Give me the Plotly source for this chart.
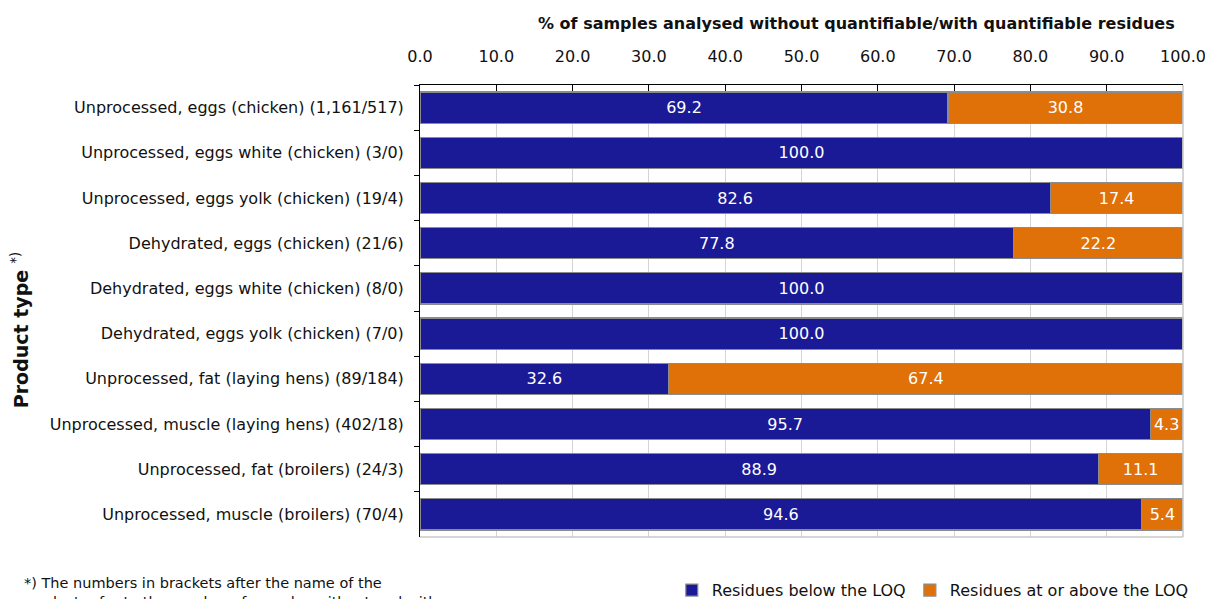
import plotly.graph_objects as go

categories = [
    "Unprocessed, eggs (chicken) (1,161/517)",
    "Unprocessed, eggs white (chicken) (3/0)",
    "Unprocessed, eggs yolk (chicken) (19/4)",
    "Dehydrated, eggs (chicken) (21/6)",
    "Dehydrated, eggs white (chicken) (8/0)",
    "Dehydrated, eggs yolk (chicken) (7/0)",
    "Unprocessed, fat (laying hens) (89/184)",
    "Unprocessed, muscle (laying hens) (402/18)",
    "Unprocessed, fat (broilers) (24/3)",
    "Unprocessed, muscle (broilers) (70/4)",
]
below_loq = [69.2, 100.0, 82.6, 77.8, 100.0, 100.0, 32.6, 95.7, 88.9, 94.6]
above_loq = [30.8, 0.0, 17.4, 22.2, 0.0, 0.0, 67.4, 4.3, 11.1, 5.4]
x_ticks = [0, 10, 20, 30, 40, 50, 60, 70, 80, 90, 100]

FONT = "DejaVu Sans"
NAVY = "#1a1a96"
ORANGE = "#e07008"

fig = go.Figure()
fig.add_trace(go.Bar(
    y=categories, x=below_loq, orientation="h", name="Residues below the LOQ",
    marker=dict(color=NAVY, line=dict(color="#8c8c8c", width=1.2)),
    text=[f"{v:.1f}" for v in below_loq], textposition="inside",
    insidetextanchor="middle", textfont=dict(color="white", size=16, family=FONT),
    legend="legend",
))
fig.add_trace(go.Bar(
    y=categories, x=above_loq, orientation="h", name="Residues at or above the LOQ",
    marker=dict(color=ORANGE, line=dict(color="#8c8c8c", width=1.2)),
    text=[f"{v:.1f}" if v > 0 else "" for v in above_loq], textposition="inside",
    insidetextanchor="middle", textfont=dict(color="white", size=16, family=FONT),
    cliponaxis=False, legend="legend2",
))

legend_common = dict(orientation="h", y=-0.08, yanchor="top",
                     font=dict(size=16, family=FONT), itemwidth=30,
                     bgcolor="rgba(0,0,0,0)")

fig.update_layout(
    width=1213, height=599,
    barmode="stack", bargap=0.31,
    plot_bgcolor="white", paper_bgcolor="white",
    margin=dict(l=412, r=38, t=77, b=70, autoexpand=False),
    font=dict(family=FONT, size=16, color="#111111"),
    uniformtext=dict(mode="show", minsize=16),
    showlegend=True,
    legend=dict(x=0.330, xanchor="left", **legend_common),
    legend2=dict(x=0.642, xanchor="left", **legend_common),
    xaxis=dict(
        side="top", range=[0, 100], tickvals=x_ticks,
        ticktext=[f"{v:.1f}" for v in x_ticks],
        showgrid=True, gridcolor="#d4d4d4", gridwidth=1,
        showline=True, linecolor="black", linewidth=1,
        ticks="inside", ticklen=6, tickcolor="black",
        tickfont=dict(size=16, family=FONT), zeroline=False,
        automargin=False, ticklabelstandoff=16,
    ),
    yaxis=dict(
        autorange="reversed", showline=True, linecolor="black", linewidth=1,
        ticks="outside", ticklen=5, tickcolor="black", tickson="boundaries",
        tickfont=dict(size=16, family=FONT), showgrid=False, ticklabelstandoff=12,
        automargin=False,
    ),
)

# gray frame on right and bottom
fig.add_shape(type="line", xref="paper", yref="paper", x0=1, x1=1, y0=0, y1=1,
              line=dict(color="#c8c8c8", width=1.5))
fig.add_shape(type="line", xref="paper", yref="paper", x0=0, x1=1, y0=0, y1=0,
              line=dict(color="#c8c8c8", width=1.5))

fig.add_annotation(
    text="<b>% of samples analysed without quantifiable/with quantifiable residues</b>",
    xref="paper", yref="paper", x=0.992, xanchor="right", y=1.0, yanchor="bottom",
    yshift=50, showarrow=False, font=dict(size=16, family=FONT, color="#111111"),
)
fig.add_annotation(
    text="<b>Product type</b> <sup>*)</sup>", textangle=-90,
    xref="paper", yref="paper", x=-0.524, xanchor="center", y=0.458, yanchor="middle",
    showarrow=False, font=dict(size=19, family=FONT, color="#111111"),
)
fig.add_annotation(
    text="*) The numbers in brackets after the name of the<br>product refer to the number of samples without and with",
    xref="paper", yref="paper", x=-0.5216, xanchor="left", y=-0.08, yanchor="top",
    align="left", showarrow=False, font=dict(size=14.5, family=FONT, color="#111111"),
)

fig.write_html("out.html")
